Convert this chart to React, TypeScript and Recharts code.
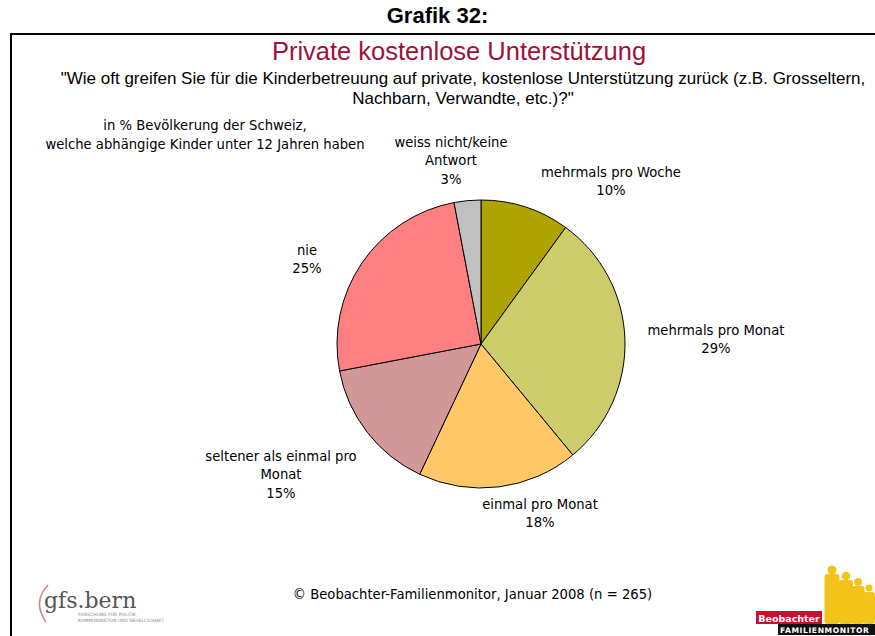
import React from 'react'
import { PieChart, Pie, Cell } from 'recharts'

const categories = [
  'mehrmals pro Woche',
  'mehrmals pro Monat',
  'einmal pro Monat',
  'seltener als einmal pro\nMonat',
  'nie',
  'weiss nicht/keine\nAntwort',
]
const values = [10, 29, 18, 15, 25, 3]
const colors = ['#ADA400', '#CCCC6B', '#FFC766', '#D29898', '#FF8080', '#C0C0C0']

// label block centres, relative to the pie centre
const labelOffsets = [
  [130, -163],
  [235, -5],
  [59, 169],
  [-200, 130],
  [-174, -85],
  [-30, -184],
]

const data = categories.map((name, i) => ({ name, value: values[i] }))

const labelFont = "'DejaVu Sans', Verdana, sans-serif"
const narrowFont = "'Liberation Sans Narrow', 'Liberation Sans', Arial, sans-serif"
const LINE = 18.5
const FS = 13.2

function renderLabel(props: any) {
  const { cx, cy, index, value } = props
  const lines = [...categories[index].split('\n'), `${value}%`]
  const [dx, dy] = labelOffsets[index]
  const top = cy + dy - ((lines.length - 1) * LINE) / 2
  return (
    <text
      key={`lbl-${index}`}
      x={cx + dx}
      y={top}
      textAnchor="middle"
      dominantBaseline="central"
      fontFamily={labelFont}
      fontSize={FS}
      fill="#000"
    >
      {lines.map((l, j) => (
        <tspan key={j} x={cx + dx} y={top + j * LINE}>
          {l}
        </tspan>
      ))}
    </text>
  )
}

function GfsLogo() {
  return (
    <svg width={180} height={50} style={{ position: 'absolute', left: 30, top: 580 }}>
      <path d="M 18 5 Q 2 22 16 42" stroke="#C98A9A" strokeWidth={1.6} fill="none" />
      <text x={14} y={28} fontFamily="'DejaVu Serif', 'Liberation Serif', serif" fontSize={22} fill="#555">
        gfs.bern
      </text>
      <text x={48} y={36} fontFamily={labelFont} fontSize={4.5} fill="#888">
        FORSCHUNG FÜR POLITIK,
      </text>
      <text x={48} y={42} fontFamily={labelFont} fontSize={4.5} fill="#888">
        KOMMUNIKATION UND GESELLSCHAFT
      </text>
    </svg>
  )
}

function BeobachterLogo() {
  const figures = [
    { x: 832, top: 566, w: 15 },
    { x: 846, top: 572, w: 14 },
    { x: 858, top: 578, w: 13 },
    { x: 869, top: 584, w: 12 },
  ]
  return (
    <svg width={875} height={636} style={{ position: 'absolute', left: 0, top: 0, pointerEvents: 'none' }}>
      {figures.map((f, i) => (
        <g key={i} fill="#F2C419">
          <circle cx={f.x} cy={f.top + 4} r={f.w * 0.3} />
          <rect x={f.x - f.w / 2} y={f.top + 8} width={f.w} height={624 - f.top - 8} rx={3} />
        </g>
      ))}
      <rect x={756} y={611} width={66} height={13} fill="#C8102E" />
      <text x={789} y={621.5} textAnchor="middle" fontFamily={labelFont} fontWeight="bold" fontSize={9.5} fill="#fff">
        Beobachter
      </text>
      <rect x={778} y={624} width={97} height={11} fill="#111" />
      <text x={780} y={633} fontFamily={labelFont} fontWeight="bold" fontSize={7.6} fill="#fff" letterSpacing={0.6}>
        FAMILIENMONITOR
      </text>
    </svg>
  )
}

export default function App() {
  return (
    <div
      style={{
        position: 'absolute',
        left: 0,
        top: 0,
        width: 875,
        height: 636,
        overflow: 'hidden',
        background: '#fff',
      }}
    >
      <div
        style={{
          position: 'absolute',
          left: 0,
          width: 875,
          top: 3,
          textAlign: 'center',
          fontFamily: narrowFont,
          fontWeight: 'bold',
          fontSize: 22,
          color: '#000',
        }}
      >
        Grafik 32:
      </div>
      <div
        style={{
          position: 'absolute',
          left: 10,
          top: 33,
          width: 900,
          height: 640,
          border: '2px solid #000',
          boxSizing: 'border-box',
        }}
      />
      <div
        style={{
          position: 'absolute',
          left: 10,
          width: 898,
          top: 36,
          textAlign: 'center',
          fontFamily: narrowFont,
          fontSize: 25.5,
          color: '#A0103A',
          lineHeight: '30px',
        }}
      >
        Private kostenlose Unterstützung
      </div>
      <div
        style={{
          position: 'absolute',
          left: 52,
          width: 822,
          top: 69,
          textAlign: 'center',
          fontFamily: narrowFont,
          fontSize: 17,
          color: '#000',
          lineHeight: '20px',
        }}
      >
        "Wie oft greifen Sie für die Kinderbetreuung auf private, kostenlose Unterstützung zurück (z.B. Grosseltern,
        <br />
        Nachbarn, Verwandte, etc.)?"
      </div>
      <div
        style={{
          position: 'absolute',
          left: 5,
          width: 400,
          top: 117,
          textAlign: 'center',
          fontFamily: labelFont,
          fontSize: FS,
          lineHeight: '18.5px',
          color: '#000',
        }}
      >
        in % Bevölkerung der Schweiz,
        <br />
        welche abhängige Kinder unter 12 Jahren haben
      </div>

      <div style={{ position: 'absolute', left: 0, top: 0 }}>
        <PieChart width={875} height={636} margin={{ top: 0, right: 0, bottom: 0, left: 0 }}>
          <Pie
            data={data}
            dataKey="value"
            nameKey="name"
            cx={481}
            cy={344}
            outerRadius={144}
            startAngle={90}
            endAngle={-270}
            stroke="#000"
            strokeWidth={1}
            label={renderLabel}
            labelLine={false}
            isAnimationActive={false}
          >
            {data.map((d, i) => (
              <Cell key={d.name} fill={colors[i]} />
            ))}
          </Pie>
        </PieChart>
      </div>

      <div
        style={{
          position: 'absolute',
          left: 200,
          width: 545,
          top: 587,
          textAlign: 'center',
          fontFamily: labelFont,
          fontSize: FS,
          color: '#000',
        }}
      >
        © Beobachter-Familienmonitor, Januar 2008 (n = 265)
      </div>

      <GfsLogo />
      <BeobachterLogo />
    </div>
  )
}
